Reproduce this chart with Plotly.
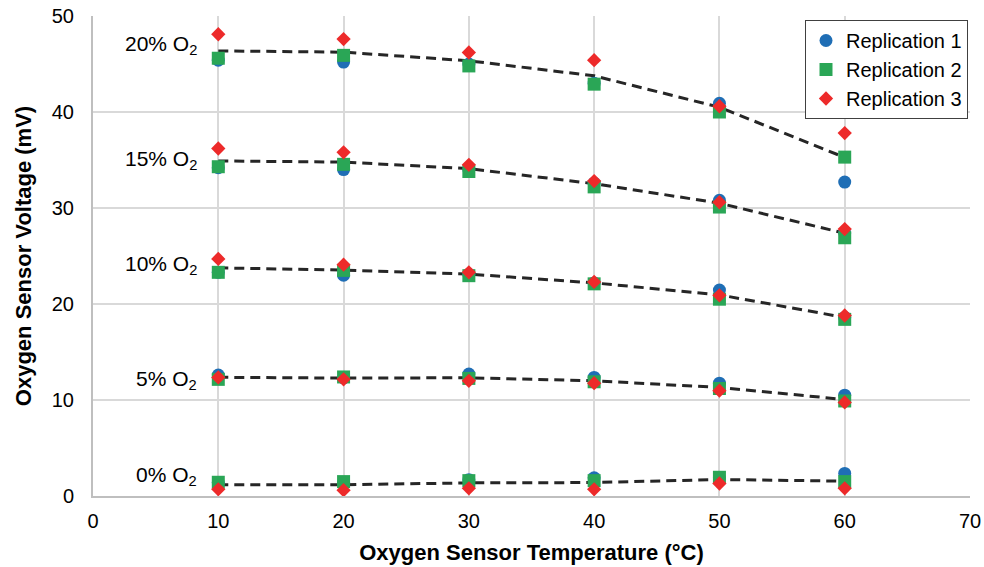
import numpy as np
import plotly.graph_objects as go

temps = [10, 20, 30, 40, 50, 60]
levels = ["0% O<sub>2</sub>", "5% O<sub>2</sub>", "10% O<sub>2</sub>", "15% O<sub>2</sub>", "20% O<sub>2</sub>"]

# Replication values (mV), rows = O2 level (0,5,10,15,20 %), cols = temperature
rep1_0 = [1.4, 1.4, 1.7, 1.9, 1.9, 2.35]
rep1_5 = [12.6, 12.3, 12.7, 12.35, 11.75, 10.5]
rep1_10 = [23.3, 23.0, 23.1, 22.2, 21.45, 18.6]
rep1_15 = [34.2, 34.0, 34.0, 32.6, 30.8, 27.4]
rep1_20 = [45.4, 45.2, 45.0, 43.0, 40.9, 32.7]

rep2_0 = [1.43, 1.5, 1.6, 1.6, 1.95, 1.5]
rep2_5 = [12.15, 12.4, 12.25, 11.9, 11.2, 9.9]
rep2_10 = [23.3, 23.5, 22.95, 22.1, 20.5, 18.4]
rep2_15 = [34.3, 34.55, 33.8, 32.2, 30.1, 26.9]
rep2_20 = [45.6, 45.9, 44.8, 42.9, 40.0, 35.3]

rep3_0 = [0.7, 0.6, 0.8, 0.7, 1.3, 0.8]
rep3_5 = [12.35, 12.15, 12.0, 11.75, 10.97, 9.75]
rep3_10 = [24.7, 24.1, 23.3, 22.3, 20.9, 18.8]
rep3_15 = [36.2, 35.8, 34.5, 32.8, 30.6, 27.8]
rep3_20 = [48.1, 47.6, 46.2, 45.4, 40.6, 37.8]

rep1 = [rep1_0, rep1_5, rep1_10, rep1_15, rep1_20]
rep2 = [rep2_0, rep2_5, rep2_10, rep2_15, rep2_20]
rep3 = [rep3_0, rep3_5, rep3_10, rep3_15, rep3_20]

series_names = ["Replication 1", "Replication 2", "Replication 3"]

FONT = "Liberation Sans, Arial, sans-serif"
colors = ["#1f6eb5", "#2aa656", "#ed2a2a"]
symbols = ["circle", "square", "diamond"]
sizes = [13, 13, 11]
# vertical placement of the level labels (in axis units)
label_y = [2.2, 12.2, 24.2, 35.1, 47.1]

fig = go.Figure()

# mean dashed lines
for i in range(len(levels)):
    mean = np.mean([rep1[i], rep2[i], rep3[i]], axis=0)
    fig.add_trace(go.Scatter(
        x=temps, y=mean, mode="lines", showlegend=False, hoverinfo="skip",
        line=dict(color="#262626", width=3, dash="10px,6px"),
    ))

for k, reps in enumerate([rep1, rep2, rep3]):
    xs, ys = [], []
    for i in range(len(levels)):
        xs += temps
        ys += reps[i]
    fig.add_trace(go.Scatter(
        x=xs, y=ys, mode="markers", name=series_names[k],
        marker=dict(symbol=symbols[k], color=colors[k], size=sizes[k], line=dict(width=0)),
    ))

# level labels
for i, lab in enumerate(levels):
    fig.add_annotation(
        x=temps[0], y=label_y[i], xref="x", yref="y", text=lab, showarrow=False,
        xanchor="right", yanchor="middle", xshift=-19, yshift=-1,
        font=dict(family=FONT, size=21, color="#000000"),
    )

fig.update_layout(
    width=984, height=567,
    margin=dict(l=93, r=14, t=16, b=71),
    paper_bgcolor="white", plot_bgcolor="white",
    font=dict(family=FONT, size=20, color="#000000"),
    legend=dict(
        x=(968 - 93) / 877, y=(496 - 20) / 480, xanchor="right", yanchor="top",
        bgcolor="white", bordercolor="#404040", borderwidth=1,
        font=dict(family=FONT, size=20, color="#000000"),
        tracegroupgap=0, itemwidth=30,
    ),
    xaxis=dict(
        range=[0, 70], dtick=10, tick0=0, automargin=False,
        showgrid=True, gridcolor="#d9d9d9", gridwidth=2,
        showline=True, linecolor="#bfbfbf", linewidth=2,
        zeroline=False, ticks="", ticklabelstandoff=6,
        tickfont=dict(family=FONT, size=20, color="#000000"),
        title=dict(text="<b>Oxygen Sensor Temperature (°C)</b>", standoff=14,
                   font=dict(family=FONT, size=22, color="#000000")),
    ),
    yaxis=dict(
        range=[0, 50], dtick=10, tick0=0, automargin=False,
        showgrid=True, gridcolor="#d9d9d9", gridwidth=2,
        showline=True, linecolor="#bfbfbf", linewidth=2,
        zeroline=False, ticks="", ticklabelstandoff=13,
        tickfont=dict(family=FONT, size=20, color="#000000"),
        title=dict(text="<b>Oxygen Sensor Voltage (mV)</b>", standoff=14,
                   font=dict(family=FONT, size=22, color="#000000")),
    ),
)

fig.write_html("out.html")
